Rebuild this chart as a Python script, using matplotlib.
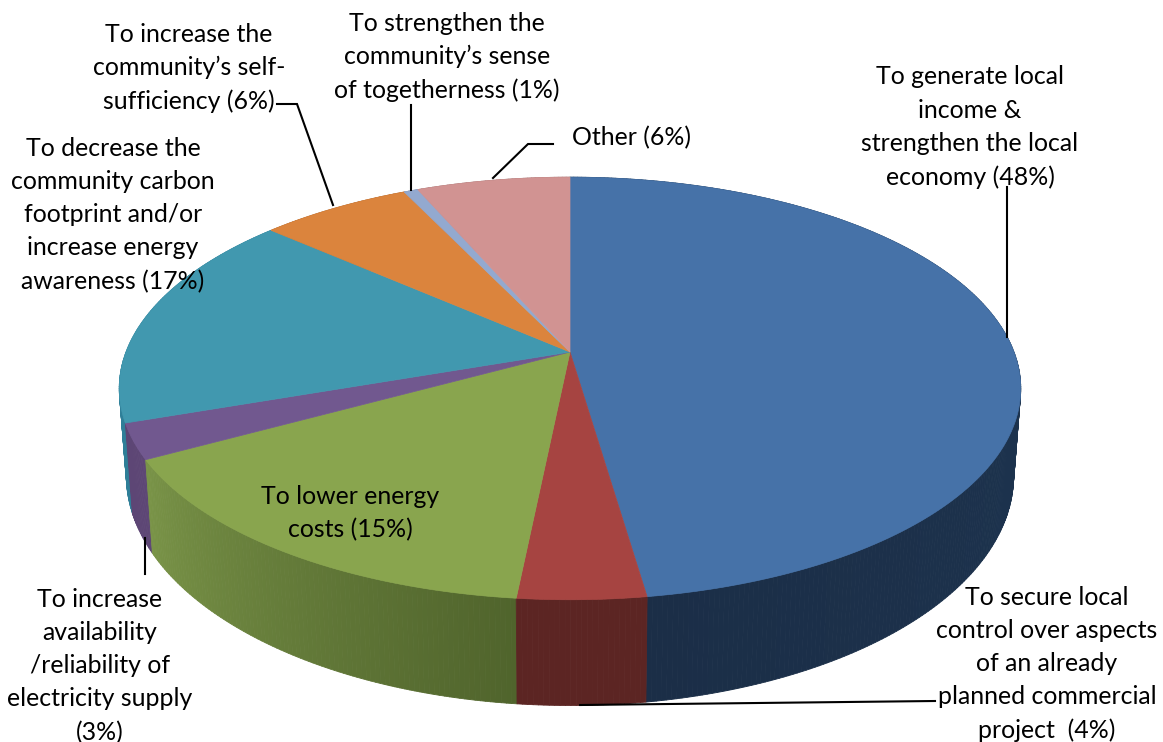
import numpy as np
import matplotlib
matplotlib.use("Agg")
import matplotlib.pyplot as plt
from matplotlib.collections import PolyCollection
from matplotlib.colors import to_rgb

# slice shares, clockwise from 12 o'clock
shares = [47.7, 3.9, 15.4, 2.7, 16.8, 6.4, 0.6, 6.5]

labels = [
    "To generate local\nincome &\nstrengthen the local\neconomy (48%)",
    "To secure local\ncontrol over aspects\nof an already\nplanned commercial\nproject  (4%)",
    "To lower energy\ncosts (15%)",
    "To increase\navailability\n/reliability of\nelectricity supply\n(3%)",
    "To decrease the\ncommunity carbon\nfootprint and/or\nincrease energy\nawareness (17%)",
    "To increase the\ncommunity\u2019s self-\nsufficiency (6%)",
    "To strengthen the\ncommunity\u2019s sense\nof togetherness (1%)",
    "Other (6%)",
]
label_x = [970, 1047, 350, 100, 113, 189, 447, 631]
label_y = [127, 664, 513, 666, 215, 68, 57, 138]

top_colors = ["#4672a8", "#a64441", "#89a54e", "#71588f", "#4198af", "#db843d", "#93a9cf", "#d19392"]
side_left = ["#1b2e47", "#5c2523", "#7a9448", "#5d4675", "#2f7f98", "#a5622c", "#6d7f9b", "#9c6e6d"]
side_right = ["#1f3a58", "#5c2523", "#50642c", "#5d4675", "#2f7f98", "#a5622c", "#6d7f9b", "#9c6e6d"]

leaders = [
    ([1007, 1007], [337, 187]),
    ([580, 935], [705, 701]),
    ([145, 145], [574, 538]),
    ([277, 297, 333], [104, 104, 205]),
    ([411, 411], [105, 190]),
    ([553, 528, 493], [144, 144, 178]),
]


# perspective ellipse, the 3d pie is just a tilted circle
def project(t, rx, ry, cy):
    x = np.sin(t)
    y = np.cos(t)
    w = 1 + 0.1725 * y
    return 570 + rx * x / w, cy - ry * y / w


def mix(a, b, f):
    a = np.array(to_rgb(a))
    b = np.array(to_rgb(b))
    return tuple(a + (b - a) * f)


fig = plt.figure(figsize=(11.63, 7.42), dpi=100)
ax = fig.add_axes([0, 0, 1, 1])
ax.set_xlim(0, 1163)
ax.set_ylim(742, 0)
ax.axis("off")

edges = np.cumsum([0] + shares) / sum(shares) * 2 * np.pi

# side wall first, far pieces before near ones
quads = []
for i in range(len(shares)):
    n = max(int((edges[i + 1] - edges[i]) / 0.01), 2)
    ts = np.linspace(edges[i], edges[i + 1], n + 1)
    for j in range(n):
        t0, t1 = ts[j], ts[j + 1]
        x0, y0 = project(t0, 444, 205, 352)
        x1, y1 = project(t1, 444, 205, 352)
        x2, y2 = project(t1, 437, 223, 436)
        x3, y3 = project(t0, 437, 223, 436)
        # shade runs across the slice
        c = mix(side_right[i], side_left[i], j / n)
        quads.append((np.cos(t0), [(x0, y0), (x1, y1), (x2, y2), (x3, y3)], c))
quads.sort(key=lambda q: -q[0])
ax.add_collection(PolyCollection([q[1] for q in quads], facecolors=[q[2] for q in quads],
                                 edgecolors="face", linewidths=0.6, zorder=1))

# top face
for i in range(len(shares)):
    ts = np.linspace(edges[i], edges[i + 1], 200)
    xs, ys = project(ts, 444, 205, 352)
    ax.fill(np.r_[570, xs], np.r_[352, ys], color=top_colors[i], lw=0.5, zorder=2)

# leader lines
for lx, ly in leaders:
    ax.plot(lx, ly, color="black", lw=1.5, zorder=3, solid_joinstyle="miter")

for i in range(len(labels)):
    ax.text(label_x[i], label_y[i], labels[i], ha="center", va="center", multialignment="center",
            family="Lato", fontsize=17.9, linespacing=1.53, color="black", zorder=4)

fig.savefig("out.png", dpi=100)
